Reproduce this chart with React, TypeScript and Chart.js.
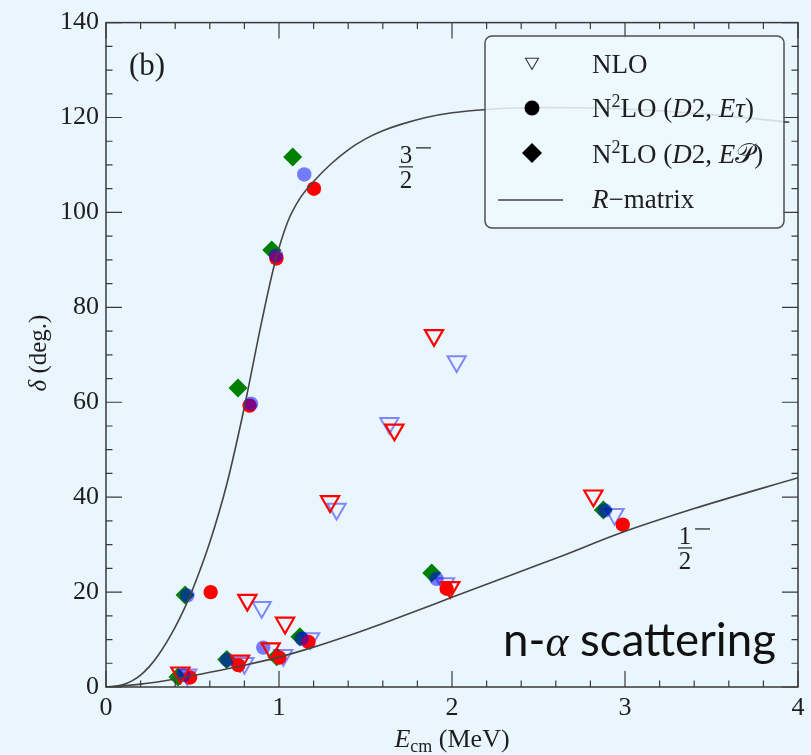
import React, { useEffect, useRef } from "react";
import { Chart, registerables } from "chart.js";

Chart.register(...registerables);

// ---- axis settings ----
const xMin = 0;
const xMax = 4;
const yMin = 0;
const yMax = 140;

// ---- R-matrix phase shifts (E_cm in MeV, delta in degrees) ----
const rP32E = [0, 0.05, 0.1, 0.15, 0.2, 0.25, 0.3, 0.35, 0.4, 0.45, 0.5, 0.6, 0.7, 0.8, 0.9, 0.977, 1.05, 1.12, 1.2, 1.3, 1.4, 1.5, 1.6, 1.7, 1.85, 2.0, 2.2, 2.5, 3.0, 3.5, 3.95];
const rP32D = [0, 0.1, 0.5, 1.3, 2.5, 4.3, 6.6, 9.4, 12.6, 16.3, 20.5, 30.5, 43.0, 59.0, 77.0, 89.5, 98.0, 102.9, 106.5, 110.2, 113.2, 115.5, 117.2, 118.5, 120.0, 121.0, 121.7, 122.1, 121.8, 120.6, 119.0];
const rP12E = [0, 0.2, 0.4, 0.6, 0.8, 1.0, 1.2, 1.4, 1.6, 1.8, 2.0, 2.4, 2.62, 2.97, 3.4, 4.0];
const rP12D = [0, 0.6, 1.7, 3.1, 4.6, 6.3, 8.4, 10.8, 13.4, 16.1, 18.9, 24.4, 27.4, 32.4, 37.6, 44.1];

// ---- NLO (open triangles) ----
const nloRedE = [0.43, 0.775, 0.817, 0.952, 1.035, 1.295, 1.667, 1.896, 1.99, 2.817];
const nloRedD = [3.0, 5.5, 18.3, 8.1, 13.5, 39.1, 54.2, 74.1, 21.0, 40.3];
const nloBlueE = [0.47, 0.8, 0.9, 1.025, 1.18, 1.333, 1.638, 1.96, 2.027, 2.94];
const nloBlueD = [2.6, 5.0, 16.8, 6.7, 10.2, 37.5, 55.6, 21.8, 68.6, 36.4];

// ---- N2LO (D2, E tau) (filled circles) ----
const tauRedE = [0.486, 0.605, 0.765, 0.83, 0.985, 1.002, 1.17, 1.202, 1.969, 2.987];
const tauRedD = [2.0, 20.0, 4.6, 59.3, 90.3, 6.2, 9.5, 105.0, 20.7, 34.2];
const tauBlueE = [0.447, 0.47, 0.7, 0.838, 0.983, 0.909, 1.131, 1.146, 1.911, 2.884];
const tauBlueD = [2.5, 19.3, 5.7, 59.7, 90.9, 8.3, 10.2, 108.0, 22.8, 37.2];

// ---- N2LO (D2, E P) (filled diamonds) ----
const epE = [0.416, 0.457, 0.698, 0.763, 0.958, 0.987, 1.079, 1.121, 1.883, 2.875];
const epD = [2.1, 19.4, 5.8, 63.0, 92.1, 6.4, 111.7, 10.6, 24.0, 37.3];

const BG = "rgb(234,246,254)";
const RED = "rgb(255,0,0)";
const BLUE_T = "rgba(0,0,255,0.5)";
const BLUE_LINE = "rgba(0,0,255,0.45)";
const GREEN = "rgb(0,128,0)";
const CURVE = "#454545";
const FRAME = "#3a3a3a";
const TEXT = "#1e1e1e";

const SERIF = '"Liberation Serif", "DejaVu Serif", serif';

const pts = (xs: number[], ys: number[]) => xs.map((x, i) => ({ x, y: ys[i] }));

type Seg = { t: string; f: string; dy?: number };

function segsWidth(ctx: CanvasRenderingContext2D, segs: Seg[]) {
  let w = 0;
  for (const s of segs) {
    ctx.font = s.f;
    w += ctx.measureText(s.t).width;
  }
  return w;
}

function drawSegs(
  ctx: CanvasRenderingContext2D,
  segs: Seg[],
  x: number,
  y: number,
  align: "left" | "center" | "right"
) {
  const w = segsWidth(ctx, segs);
  let cx = align === "left" ? x : align === "center" ? x - w / 2 : x - w;
  ctx.textAlign = "left";
  ctx.textBaseline = "alphabetic";
  for (const s of segs) {
    ctx.font = s.f;
    ctx.fillText(s.t, cx, y + (s.dy || 0));
    cx += ctx.measureText(s.t).width;
  }
}

function drawFraction(ctx: CanvasRenderingContext2D, cx: number, barY: number, num: string, den: string) {
  ctx.fillStyle = TEXT;
  ctx.font = `25px ${SERIF}`;
  ctx.textAlign = "center";
  ctx.textBaseline = "alphabetic";
  ctx.fillText(num, cx, barY - 4);
  ctx.fillText(den, cx, barY + 21);
  ctx.strokeStyle = TEXT;
  ctx.lineWidth = 1.2;
  ctx.beginPath();
  ctx.moveTo(cx - 7, barY);
  ctx.lineTo(cx + 7, barY);
  ctx.stroke();
  // superscript minus
  ctx.beginPath();
  ctx.moveTo(cx + 10, barY - 19);
  ctx.lineTo(cx + 25, barY - 19);
  ctx.stroke();
}

const decor = {
  id: "decor",
  afterDraw(chart: any) {
    const { ctx, chartArea: a, scales } = chart;
    const xs = scales.x;
    const ys = scales.y;
    ctx.save();

    // frame
    ctx.strokeStyle = FRAME;
    ctx.lineWidth = 1.5;
    ctx.strokeRect(a.left, a.top, a.right - a.left, a.bottom - a.top);

    // inward ticks on all four sides
    ctx.lineWidth = 1.2;
    ctx.beginPath();
    for (let i = 0; i <= 20; i++) {
      const v = i * 0.2;
      const px = xs.getPixelForValue(v);
      const len = i % 5 === 0 ? 16 : 6.5;
      ctx.moveTo(px, a.bottom);
      ctx.lineTo(px, a.bottom - len);
      ctx.moveTo(px, a.top);
      ctx.lineTo(px, a.top + len);
    }
    for (let i = 0; i <= 28; i++) {
      const v = i * 5;
      const py = ys.getPixelForValue(v);
      const len = i % 4 === 0 ? 16 : 6.5;
      ctx.moveTo(a.left, py);
      ctx.lineTo(a.left + len, py);
      ctx.moveTo(a.right, py);
      ctx.lineTo(a.right - len, py);
    }
    ctx.stroke();

    // partial-wave labels
    drawFraction(ctx, xs.getPixelForValue(1.734), ys.getPixelForValue(109.6), "3", "2");
    drawFraction(ctx, xs.getPixelForValue(3.347), ys.getPixelForValue(29.3), "1", "2");

    // panel tag
    ctx.fillStyle = TEXT;
    ctx.font = `31px ${SERIF}`;
    ctx.textAlign = "center";
    ctx.textBaseline = "alphabetic";
    ctx.fillText("(b)", 147, 75);

    // axis titles
    const R26 = `26px ${SERIF}`;
    const I26 = `italic 26px ${SERIF}`;
    ctx.fillStyle = TEXT;
    drawSegs(
      ctx,
      [
        { t: "E", f: I26 },
        { t: "cm", f: `18px ${SERIF}`, dy: 5 },
        { t: " (MeV)", f: R26 },
      ],
      452,
      747,
      "center"
    );
    ctx.save();
    ctx.translate(46, 353);
    ctx.rotate(-Math.PI / 2);
    drawSegs(
      ctx,
      [
        { t: "δ", f: `italic 25px ${SERIF}` },
        { t: " (deg.)", f: `25px ${SERIF}` },
      ],
      0,
      0,
      "center"
    );
    ctx.restore();

    // reaction label
    {
      const sans = `46px Lato, "Open Sans", sans-serif`;
      const segs: Seg[] = [
        { t: "n-", f: sans },
        { t: "α", f: `italic 44px ${SERIF}` },
        { t: " scattering", f: sans },
      ];
      const w = segsWidth(ctx, segs);
      const target = 273;
      ctx.save();
      ctx.translate(776 - target, 656);
      ctx.scale(target / w, 1);
      ctx.fillStyle = "#111";
      drawSegs(ctx, segs, 0, 0, "left");
      ctx.restore();
    }

    // legend
    {
      const lx = 485,
        ly = 36,
        lw = 299,
        lh = 192,
        r = 7;
      ctx.beginPath();
      ctx.moveTo(lx + r, ly);
      ctx.arcTo(lx + lw, ly, lx + lw, ly + lh, r);
      ctx.arcTo(lx + lw, ly + lh, lx, ly + lh, r);
      ctx.arcTo(lx, ly + lh, lx, ly, r);
      ctx.arcTo(lx, ly, lx + lw, ly, r);
      ctx.closePath();
      ctx.fillStyle = "rgba(238,248,255,0.85)";
      ctx.fill();
      ctx.strokeStyle = "#505050";
      ctx.lineWidth = 1.5;
      ctx.stroke();

      const mx = 532;
      const tx = 592;
      // NLO marker
      ctx.strokeStyle = "#333";
      ctx.lineWidth = 1.1;
      ctx.beginPath();
      const tr = 7.5;
      const cy1 = 62;
      ctx.moveTo(mx, cy1 + tr);
      ctx.lineTo(mx + tr * Math.sin((2 * Math.PI) / 3), cy1 - tr / 2);
      ctx.lineTo(mx - tr * Math.sin((2 * Math.PI) / 3), cy1 - tr / 2);
      ctx.closePath();
      ctx.stroke();
      // circle marker
      ctx.fillStyle = "#000";
      ctx.beginPath();
      ctx.arc(mx, 108, 7.5, 0, Math.PI * 2);
      ctx.fill();
      // diamond marker
      ctx.beginPath();
      ctx.moveTo(mx, 143);
      ctx.lineTo(mx + 10, 153);
      ctx.lineTo(mx, 163);
      ctx.lineTo(mx - 10, 153);
      ctx.closePath();
      ctx.fill();
      // line sample
      ctx.strokeStyle = CURVE;
      ctx.lineWidth = 1.5;
      ctx.beginPath();
      ctx.moveTo(498, 200);
      ctx.lineTo(563, 200);
      ctx.stroke();

      const R = `27px ${SERIF}`;
      const I = `italic 27px ${SERIF}`;
      const S = `18px ${SERIF}`;
      ctx.fillStyle = TEXT;
      drawSegs(ctx, [{ t: "NLO", f: R }], tx, 73, "left");
      drawSegs(
        ctx,
        [
          { t: "N", f: R },
          { t: "2", f: S, dy: -10 },
          { t: "LO (", f: R },
          { t: "D", f: I },
          { t: "2, ", f: R },
          { t: "Eτ", f: I },
          { t: ")", f: R },
        ],
        tx,
        117,
        "left"
      );
      drawSegs(
        ctx,
        [
          { t: "N", f: R },
          { t: "2", f: S, dy: -10 },
          { t: "LO (", f: R },
          { t: "D", f: I },
          { t: "2, ", f: R },
          { t: "E", f: I },
          { t: "𝒫", f: R },
          { t: ")", f: R },
        ],
        tx,
        163,
        "left"
      );
      drawSegs(
        ctx,
        [
          { t: "R", f: I },
          { t: "−matrix", f: R },
        ],
        tx,
        208,
        "left"
      );
    }

    ctx.restore();
  },
};

const background = {
  id: "bg",
  beforeDraw(chart: any) {
    const { ctx, width, height } = chart;
    ctx.save();
    ctx.fillStyle = BG;
    ctx.fillRect(0, 0, width, height);
    ctx.restore();
  },
};

export default function App() {
  const ref = useRef<HTMLCanvasElement | null>(null);

  useEffect(() => {
    if (!ref.current) return;
    const tickFont = { family: "Liberation Serif", size: 26 };
    const chart = new Chart(ref.current, {
      type: "scatter",
      data: {
        datasets: [
          {
            label: "R-matrix 3/2-",
            data: pts(rP32E, rP32D),
            showLine: true,
            borderColor: CURVE,
            borderWidth: 1.6,
            pointRadius: 0,
            cubicInterpolationMode: "monotone",
            fill: false,
          },
          {
            label: "R-matrix 1/2-",
            data: pts(rP12E, rP12D),
            showLine: true,
            borderColor: CURVE,
            borderWidth: 1.6,
            pointRadius: 0,
            cubicInterpolationMode: "monotone",
            fill: false,
          },
          {
            label: "NLO (red)",
            data: pts(nloRedE, nloRedD),
            pointStyle: "triangle",
            rotation: 180,
            pointRadius: 10.5,
            pointBorderColor: RED,
            pointBackgroundColor: "rgba(0,0,0,0)",
            pointBorderWidth: 2.2,
          },
          {
            label: "N2LO Etau (blue)",
            data: pts(tauBlueE, tauBlueD),
            pointStyle: "circle",
            pointRadius: 7.2,
            pointBackgroundColor: BLUE_T,
            pointBorderWidth: 0,
            pointBorderColor: "rgba(0,0,0,0)",
          },
          {
            label: "N2LO Etau (red)",
            data: pts(tauRedE, tauRedD),
            pointStyle: "circle",
            pointRadius: 7.2,
            pointBackgroundColor: RED,
            pointBorderWidth: 0,
            pointBorderColor: "rgba(0,0,0,0)",
          },
          {
            label: "NLO (blue)",
            data: pts(nloBlueE, nloBlueD),
            pointStyle: "triangle",
            rotation: 180,
            pointRadius: 10.5,
            pointBorderColor: BLUE_LINE,
            pointBackgroundColor: "rgba(0,0,0,0)",
            pointBorderWidth: 2,
          },
          {
            label: "N2LO EP",
            data: pts(epE, epD),
            pointStyle: "rectRot",
            pointRadius: 9.5,
            pointBackgroundColor: GREEN,
            pointBorderWidth: 0,
            pointBorderColor: "rgba(0,0,0,0)",
          },
        ],
      },
      options: {
        responsive: false,
        animation: false,
        devicePixelRatio: 1,
        layout: { padding: { left: 0, top: 20, right: 13, bottom: 0 } },
        plugins: { legend: { display: false }, tooltip: { enabled: false } },
        scales: {
          x: {
            type: "linear",
            min: xMin,
            max: xMax,
            ticks: { stepSize: 1, font: tickFont, color: TEXT, padding: 6, maxRotation: 0 },
            grid: { display: false, drawTicks: false, tickLength: 0 },
            border: { display: false },
            afterFit: (s: any) => {
              s.height = 68;
            },
          },
          y: {
            type: "linear",
            min: yMin,
            max: yMax,
            ticks: { stepSize: 20, font: tickFont, color: TEXT, padding: 7 },
            grid: { display: false, drawTicks: false, tickLength: 0 },
            border: { display: false },
            afterFit: (s: any) => {
              s.width = 106;
            },
          },
        },
      } as any,
      plugins: [background, decor],
    });
    return () => chart.destroy();
  }, []);

  return (
    <div style={{ position: "fixed", left: 0, top: 0, width: 811, height: 755, background: BG }}>
      <canvas ref={ref} width={811} height={755} style={{ display: "block" }} />
    </div>
  );
}
